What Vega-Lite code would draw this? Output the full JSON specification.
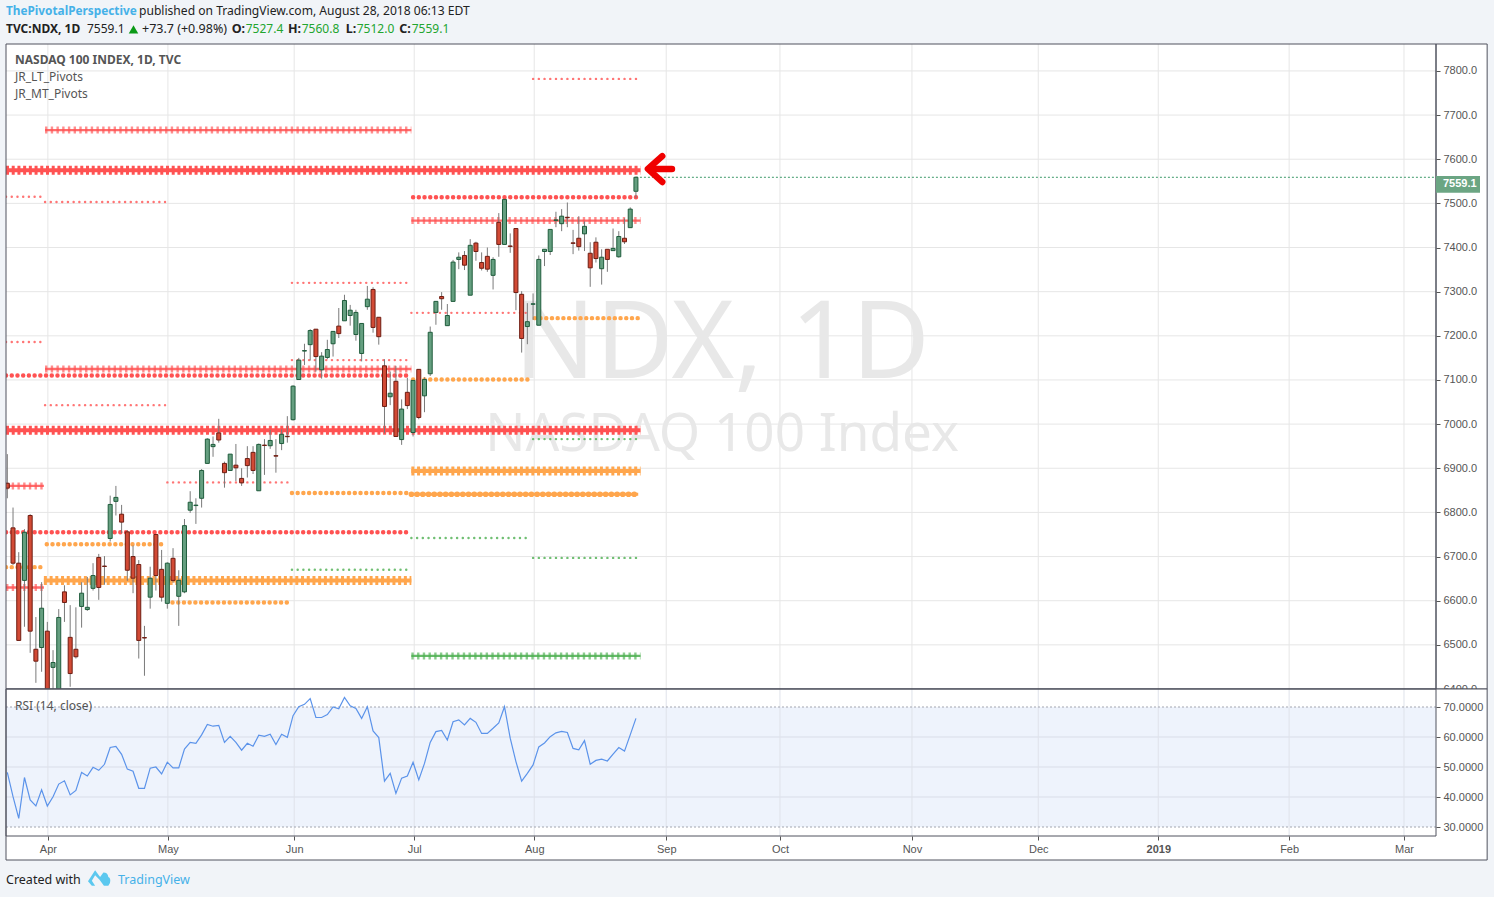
{"$schema":"https://vega.github.io/schema/vega-lite/v6.json","background":"#f1f4f8","padding":{"left":4,"top":5,"right":6,"bottom":10},"autosize":{"type":"pad"},"bounds":"flush","align":"all","spacing":0,
"config":{"view":{"stroke":null,"fill":"#ffffff"},"scale":{"continuousPadding":0},"text":{"font":"Noto Sans"},"axis":{"grid":false,"domain":false,"labelFont":"Liberation Sans","labelFontSize":11,"labelColor":"#555555","tickColor":"#555555","tickSize":4,"labelPadding":3,"labelOverlap":false,"labelBound":false,"labelFlush":false}},
"datasets":{
"candles":[{"s":0,"o":6866,"h":6932,"l":6832,"c":6855},{"s":1,"o":6765,"h":6811,"l":6681,"c":6685},{"s":2,"o":6685,"h":6710,"l":6510,"c":6510},{"s":3,"o":6646,"h":6762,"l":6541,"c":6755},{"s":4,"o":6793,"h":6796,"l":6482,"c":6531},{"s":5,"o":6490,"h":6563,"l":6414,"c":6463},{"s":6,"o":6494,"h":6642,"l":6439,"c":6583},{"s":7,"o":6531,"h":6552,"l":6360,"c":6380},{"s":8,"o":6449,"h":6488,"l":6385,"c":6460},{"s":9,"o":6385,"h":6581,"l":6370,"c":6562},{"s":10,"o":6620,"h":6635,"l":6552,"c":6596},{"s":11,"o":6517,"h":6590,"l":6405,"c":6435},{"s":12,"o":6490,"h":6585,"l":6469,"c":6473},{"s":13,"o":6587,"h":6642,"l":6539,"c":6617},{"s":14,"o":6580,"h":6654,"l":6577,"c":6585},{"s":15,"o":6628,"h":6685,"l":6623,"c":6657},{"s":16,"o":6698,"h":6706,"l":6602,"c":6630},{"s":17,"o":6678.5,"h":6701,"l":6636,"c":6677.5},{"s":18,"o":6741,"h":6838,"l":6734,"c":6818},{"s":19,"o":6825,"h":6860,"l":6793,"c":6834},{"s":20,"o":6796,"h":6817,"l":6753,"c":6778},{"s":21,"o":6756,"h":6760,"l":6645,"c":6669},{"s":22,"o":6700,"h":6725,"l":6617,"c":6651},{"s":23,"o":6682,"h":6692,"l":6469,"c":6510},{"s":24,"o":6516.5,"h":6543,"l":6430,"c":6515.5},{"s":25,"o":6608,"h":6677,"l":6582,"c":6651},{"s":26,"o":6750,"h":6750,"l":6623,"c":6657},{"s":27,"o":6671,"h":6715,"l":6598,"c":6608},{"s":28,"o":6594,"h":6687,"l":6582,"c":6685},{"s":29,"o":6696,"h":6719,"l":6641,"c":6646},{"s":30,"o":6610,"h":6669,"l":6543,"c":6646},{"s":31,"o":6620,"h":6785,"l":6617,"c":6770},{"s":32,"o":6805,"h":6848,"l":6799,"c":6823},{"s":33,"o":6815.5,"h":6832,"l":6774,"c":6816.5},{"s":34,"o":6832,"h":6898,"l":6811,"c":6895},{"s":35,"o":6911,"h":6968,"l":6911,"c":6966},{"s":36,"o":6949,"h":6972,"l":6926,"c":6954},{"s":37,"o":6980,"h":7012,"l":6958,"c":6964},{"s":38,"o":6911,"h":6915,"l":6856,"c":6890},{"s":39,"o":6895,"h":6932,"l":6895,"c":6932},{"s":40,"o":6907,"h":6955,"l":6871,"c":6901},{"s":41,"o":6877,"h":6900,"l":6860,"c":6867},{"s":42,"o":6922,"h":6950,"l":6879,"c":6906},{"s":43,"o":6936,"h":6950,"l":6887,"c":6895},{"s":44,"o":6849,"h":6956,"l":6849,"c":6954},{"s":45,"o":6952.5,"h":6966,"l":6885,"c":6951.5},{"s":46,"o":6951,"h":6987,"l":6944,"c":6963},{"s":47,"o":6928.5,"h":6966,"l":6890,"c":6927.5},{"s":48,"o":6956,"h":6988,"l":6941,"c":6977},{"s":49,"o":6972.5,"h":7018,"l":6958,"c":6971.5},{"s":50,"o":7010,"h":7088,"l":7008,"c":7086},{"s":51,"o":7101,"h":7150,"l":7100,"c":7145},{"s":52,"o":7165.5,"h":7182,"l":7134,"c":7166.5},{"s":53,"o":7180,"h":7215,"l":7144,"c":7212},{"s":54,"o":7215,"h":7215,"l":7119,"c":7153},{"s":55,"o":7123,"h":7163,"l":7103,"c":7154},{"s":56,"o":7151,"h":7191,"l":7147,"c":7169},{"s":57,"o":7182,"h":7210,"l":7153,"c":7210},{"s":58,"o":7222,"h":7263,"l":7195,"c":7205},{"s":59,"o":7234,"h":7293,"l":7234,"c":7280},{"s":60,"o":7246,"h":7270,"l":7223,"c":7258},{"s":61,"o":7203,"h":7259,"l":7189,"c":7253},{"s":62,"o":7160,"h":7228,"l":7142,"c":7228},{"s":63,"o":7266,"h":7313,"l":7259,"c":7283},{"s":64,"o":7305,"h":7310,"l":7207,"c":7219},{"s":65,"o":7242,"h":7242,"l":7180,"c":7198},{"s":66,"o":7132,"h":7147,"l":6979,"c":7040},{"s":67,"o":7062,"h":7119,"l":7043,"c":7070},{"s":68,"o":7097,"h":7132,"l":6972,"c":6972},{"s":69,"o":6965,"h":7056,"l":6953,"c":7034},{"s":70,"o":7072,"h":7105,"l":7034,"c":7042},{"s":71,"o":6981,"h":7099,"l":6972,"c":7099},{"s":72,"o":7124,"h":7124,"l":7011,"c":7015},{"s":73,"o":7064,"h":7106,"l":7027,"c":7101},{"s":74,"o":7114,"h":7221,"l":7109,"c":7208},{"s":75,"o":7253,"h":7278,"l":7225,"c":7278},{"s":76,"o":7289,"h":7299,"l":7259,"c":7284},{"s":77,"o":7223,"h":7272,"l":7223,"c":7246},{"s":78,"o":7278,"h":7372,"l":7278,"c":7367},{"s":79,"o":7373,"h":7389,"l":7351,"c":7378},{"s":80,"o":7382,"h":7392,"l":7349,"c":7360},{"s":81,"o":7292,"h":7419,"l":7292,"c":7405},{"s":82,"o":7410,"h":7413,"l":7370,"c":7391},{"s":83,"o":7366,"h":7389,"l":7348,"c":7353},{"s":84,"o":7380,"h":7400,"l":7345,"c":7351},{"s":85,"o":7337,"h":7378,"l":7305,"c":7373},{"s":86,"o":7457,"h":7478,"l":7379,"c":7407},{"s":87,"o":7407,"h":7509,"l":7407,"c":7509},{"s":88,"o":7403.5,"h":7432,"l":7388,"c":7402.5},{"s":89,"o":7443,"h":7443,"l":7258,"c":7298},{"s":90,"o":7294,"h":7301,"l":7162,"c":7194},{"s":91,"o":7221,"h":7274,"l":7181,"c":7232},{"s":92,"o":7271.5,"h":7296,"l":7236,"c":7272.5},{"s":93,"o":7224,"h":7382,"l":7224,"c":7373},{"s":94,"o":7391,"h":7396,"l":7358,"c":7396},{"s":95,"o":7391,"h":7441,"l":7383,"c":7441},{"s":96,"o":7461.5,"h":7481,"l":7446,"c":7462.5},{"s":97,"o":7454,"h":7487,"l":7437,"c":7471},{"s":98,"o":7468.5,"h":7502,"l":7446,"c":7467.5},{"s":99,"o":7410.5,"h":7440,"l":7385,"c":7409.5},{"s":100,"o":7421,"h":7471,"l":7393,"c":7402},{"s":101,"o":7431,"h":7459,"l":7392,"c":7448},{"s":102,"o":7387,"h":7412,"l":7311,"c":7354},{"s":103,"o":7412,"h":7423,"l":7366,"c":7375},{"s":104,"o":7352,"h":7396,"l":7316,"c":7378},{"s":105,"o":7396,"h":7396,"l":7345,"c":7373},{"s":106,"o":7393,"h":7443,"l":7393,"c":7398},{"s":107,"o":7379,"h":7437,"l":7377,"c":7425},{"s":108,"o":7421,"h":7466,"l":7408,"c":7413},{"s":109,"o":7445,"h":7491,"l":7445,"c":7487},{"s":110,"o":7527.4,"h":7560.8,"l":7512,"c":7559.1}],
"rsi":[{"s":0,"v":48.2},{"s":1,"v":40.1},{"s":2,"v":32.9},{"s":3,"v":46.5},{"s":4,"v":39},{"s":5,"v":37},{"s":6,"v":42.4},{"s":7,"v":37},{"s":8,"v":40.1},{"s":9,"v":44.3},{"s":10,"v":45.4},{"s":11,"v":40.7},{"s":12,"v":42.2},{"s":13,"v":48.2},{"s":14,"v":47},{"s":15,"v":49.9},{"s":16,"v":48.9},{"s":17,"v":50.9},{"s":18,"v":56.5},{"s":19,"v":56.9},{"s":20,"v":54.2},{"s":21,"v":49.3},{"s":22,"v":48.6},{"s":23,"v":42.9},{"s":24,"v":42.9},{"s":25,"v":49.6},{"s":26,"v":50},{"s":27,"v":47.7},{"s":28,"v":51.6},{"s":29,"v":49.7},{"s":30,"v":49.7},{"s":31,"v":56},{"s":32,"v":58.2},{"s":33,"v":57.9},{"s":34,"v":60.7},{"s":35,"v":64.2},{"s":36,"v":63.6},{"s":37,"v":63.9},{"s":38,"v":58.2},{"s":39,"v":60.2},{"s":40,"v":58.2},{"s":41,"v":55.6},{"s":42,"v":57.9},{"s":43,"v":56.9},{"s":44,"v":60.6},{"s":45,"v":60.2},{"s":46,"v":60.9},{"s":47,"v":57.5},{"s":48,"v":60.9},{"s":49,"v":59.9},{"s":50,"v":67.1},{"s":51,"v":70.1},{"s":52,"v":70.9},{"s":53,"v":72.8},{"s":54,"v":66.5},{"s":55,"v":66.5},{"s":56,"v":67.5},{"s":57,"v":70},{"s":58,"v":69.4},{"s":59,"v":73.2},{"s":60,"v":70.4},{"s":61,"v":69.5},{"s":62,"v":66.2},{"s":63,"v":70.1},{"s":64,"v":62},{"s":65,"v":59.8},{"s":66,"v":45.3},{"s":67,"v":47.9},{"s":68,"v":41.2},{"s":69,"v":46.3},{"s":70,"v":47},{"s":71,"v":51.6},{"s":72,"v":45.7},{"s":73,"v":51.2},{"s":74,"v":58.2},{"s":75,"v":61.8},{"s":76,"v":62.2},{"s":77,"v":59},{"s":78,"v":65.1},{"s":79,"v":65.7},{"s":80,"v":64},{"s":81,"v":66.2},{"s":82,"v":64.9},{"s":83,"v":61.2},{"s":84,"v":61.2},{"s":85,"v":62.9},{"s":86,"v":64.7},{"s":87,"v":70.1},{"s":88,"v":59.6},{"s":89,"v":51.8},{"s":90,"v":45.3},{"s":91,"v":47.9},{"s":92,"v":50.7},{"s":93,"v":56.7},{"s":94,"v":58},{"s":95,"v":60.1},{"s":96,"v":61.4},{"s":97,"v":61.9},{"s":98,"v":61.5},{"s":99,"v":56.2},{"s":100,"v":55.7},{"s":101,"v":58.8},{"s":102,"v":50.9},{"s":103,"v":52.2},{"s":104,"v":52.6},{"s":105,"v":52},{"s":106,"v":54.3},{"s":107,"v":56.5},{"s":108,"v":55.3},{"s":109,"v":60.7},{"s":110,"v":66.2}],
"pivots":[{"from":-0.23,"to":110.8,"level":7575,"zone":"R","tier":"heavy"},{"from":-0.23,"to":110.8,"level":6986,"zone":"R","tier":"heavy"},{"from":6.4,"to":70.7,"level":6646,"zone":"M","tier":"heavy"},{"from":70.7,"to":110.8,"level":6894,"zone":"M","tier":"heavy"},{"from":70.7,"to":110.4,"level":6841,"zone":"M","tier":"chain"},{"from":6.6,"to":70.7,"level":7666,"zone":"R","tier":"cross"},{"from":6.6,"to":70.7,"level":7125,"zone":"R","tier":"cross"},{"from":70.7,"to":110.8,"level":7461,"zone":"R","tier":"cross"},{"from":-0.23,"to":6.4,"level":6860,"zone":"R","tier":"cross"},{"from":-0.23,"to":6.4,"level":6630,"zone":"R","tier":"cross"},{"from":70.7,"to":110.8,"level":6475,"zone":"S","tier":"cross"},{"from":-0.23,"to":70.7,"level":7110,"zone":"R","tier":"round"},{"from":-0.23,"to":70.7,"level":6755,"zone":"R","tier":"round"},{"from":71,"to":110.4,"level":7514,"zone":"R","tier":"round"},{"from":6.9,"to":27.3,"level":6728,"zone":"M","tier":"round"},{"from":-0.23,"to":6.2,"level":6676,"zone":"M","tier":"round"},{"from":28.9,"to":49,"level":6596,"zone":"M","tier":"round"},{"from":49.8,"to":70.7,"level":6844,"zone":"M","tier":"round"},{"from":71,"to":91.5,"level":7101,"zone":"M","tier":"round"},{"from":92.3,"to":110.4,"level":7240,"zone":"M","tier":"round"},{"from":92,"to":110.4,"level":7782,"zone":"R","tier":"light"},{"from":-0.23,"to":6.4,"level":7515,"zone":"R","tier":"light"},{"from":6.6,"to":27.6,"level":7503,"zone":"R","tier":"light"},{"from":49.8,"to":70.7,"level":7320,"zone":"R","tier":"light"},{"from":70.7,"to":91.5,"level":7252,"zone":"R","tier":"light"},{"from":-0.23,"to":6.4,"level":7186,"zone":"R","tier":"light"},{"from":49.8,"to":70.7,"level":7145,"zone":"R","tier":"light"},{"from":6.6,"to":27.6,"level":7043,"zone":"R","tier":"light"},{"from":28,"to":49.2,"level":6868,"zone":"R","tier":"light"},{"from":92,"to":110.4,"level":6966,"zone":"S","tier":"light"},{"from":70.7,"to":91.5,"level":6742,"zone":"S","tier":"light"},{"from":92,"to":110.4,"level":6697,"zone":"S","tier":"light"},{"from":49.8,"to":70.7,"level":6670,"zone":"S","tier":"light"}],
"months":[{"s":7.1,"m":"Apr"},{"s":28.1,"m":"May"},{"s":50.2,"m":"Jun"},{"s":71.2,"m":"Jul"},{"s":92.2,"m":"Aug"},{"s":115.3,"m":"Sep"},{"s":135.2,"m":"Oct"},{"s":158.3,"m":"Nov"},{"s":180.4,"m":"Dec"},{"s":201.4,"m":"2019"},{"s":224.3,"m":"Feb"},{"s":244.4,"m":"Mar"}],
"priceGrid":[{"p":6500},{"p":6600},{"p":6700},{"p":6800},{"p":6900},{"p":7000},{"p":7100},{"p":7200},{"p":7300},{"p":7400},{"p":7500},{"p":7600},{"p":7700},{"p":7800}],
"rsiGrid":[{"r":40},{"r":50},{"r":60}],
"rsiBounds":[{"r":30},{"r":70}],
"arrow":[{"part":"head","o":1,"s":114.6,"p":7607},{"part":"head","o":2,"s":112.1,"p":7578},{"part":"head","o":3,"s":114.6,"p":7548.5},{"part":"shaft","o":1,"s":112.5,"p":7578},{"part":"shaft","o":2,"s":116.3,"p":7578}]
},
"vconcat":[
{"width":1430,"height":645,"layer":[
{"data":{"values":[{}]},"mark":{"type":"rect","fill":"#ffffff"},"encoding":{"x":{"datum":250,"type":"quantitative","scale":{"domain":[-0.23,250],"nice":false,"zero":false,"padding":0},"axis":null},"x2":{"datum":258.95},"y":{"datum":6400,"type":"quantitative","scale":{"domain":[6400,7861],"nice":false,"zero":false},"axis":{"title":null,"orient":"right","zindex":1,"labelOverlap":false,"tickCount":15,"values":[6400,6500,6600,6700,6800,6900,7000,7100,7200,7300,7400,7500,7600,7700,7800],"format":".1f"}},"y2":{"datum":7861}}},
{"data":{"name":"priceGrid"},"mark":{"type":"rule","color":"#e6e6e6","strokeWidth":1},"encoding":{"y":{"field":"p","type":"quantitative"},"x":{"datum":-0.23,"type":"quantitative","axis":null},"x2":{"datum":250}}},
{"data":{"name":"months"},"mark":{"type":"rule","color":"#e6e6e6","strokeWidth":1},"encoding":{"x":{"field":"s","type":"quantitative","axis":null},"y":{"datum":6400,"type":"quantitative"},"y2":{"datum":7861}}},
{"data":{"values":[{"t":"NDX, 1D"}]},"mark":{"type":"text","fontSize":107,"color":"#e8e8e8","align":"center","baseline":"middle"},"encoding":{"x":{"datum":125.07,"type":"quantitative","axis":null},"y":{"datum":7178,"type":"quantitative"},"text":{"field":"t"}}},
{"data":{"values":[{"t":"NASDAQ 100 Index"}]},"mark":{"type":"text","fontSize":53,"color":"#e8e8e8","align":"center","baseline":"middle"},"encoding":{"x":{"datum":125.07,"type":"quantitative","axis":null},"y":{"datum":6976,"type":"quantitative"},"text":{"field":"t"}}},
{"data":{"name":"pivots"},"transform":[{"filter":"datum.tier=='light'"}],"mark":{"type":"rule","strokeWidth":2.4,"strokeCap":"round","strokeDash":[0.1,5.614],"opacity":0.8,"clip":true},"encoding":{"x":{"field":"from","type":"quantitative","axis":null},"x2":{"field":"to"},"y":{"field":"level","type":"quantitative"},"color":{"field":"zone","type":"nominal","scale":{"domain":["R","M","S"],"range":["#ff5252","#ffa64d","#4caf50"]},"legend":null}}},
{"data":{"name":"pivots"},"transform":[{"filter":"datum.tier=='round'"}],"mark":{"type":"rule","strokeWidth":4.4,"strokeCap":"round","strokeDash":[0.1,5.614],"clip":true},"encoding":{"x":{"field":"from","type":"quantitative","axis":null},"x2":{"field":"to"},"y":{"field":"level","type":"quantitative"},"color":{"field":"zone","type":"nominal","legend":null}}},
{"data":{"name":"pivots"},"transform":[{"filter":"datum.tier=='chain'"}],"mark":{"type":"rule","strokeWidth":5.6,"strokeCap":"round","strokeDash":[0.1,5.614],"clip":true},"encoding":{"x":{"field":"from","type":"quantitative","axis":null},"x2":{"field":"to"},"y":{"field":"level","type":"quantitative"},"color":{"field":"zone","type":"nominal","legend":null}}},
{"data":{"name":"pivots"},"transform":[{"filter":"datum.tier=='chain'"}],"mark":{"type":"rule","strokeWidth":3,"clip":true},"encoding":{"x":{"field":"from","type":"quantitative","axis":null},"x2":{"field":"to"},"y":{"field":"level","type":"quantitative"},"color":{"field":"zone","type":"nominal","legend":null}}},
{"data":{"name":"pivots"},"transform":[{"filter":"datum.tier=='cross'"}],"mark":{"type":"rule","strokeWidth":7,"strokeDash":[2.4,3.314],"opacity":0.65,"clip":true},"encoding":{"x":{"field":"from","type":"quantitative","axis":null},"x2":{"field":"to"},"y":{"field":"level","type":"quantitative"},"color":{"field":"zone","type":"nominal","legend":null}}},
{"data":{"name":"pivots"},"transform":[{"filter":"datum.tier=='cross'"}],"mark":{"type":"rule","strokeWidth":2.4,"opacity":0.85,"clip":true},"encoding":{"x":{"field":"from","type":"quantitative","axis":null},"x2":{"field":"to"},"y":{"field":"level","type":"quantitative"},"color":{"field":"zone","type":"nominal","legend":null}}},
{"data":{"name":"pivots"},"transform":[{"filter":"datum.tier=='heavy'"}],"mark":{"type":"rule","strokeWidth":9,"strokeDash":[3,2.714],"clip":true},"encoding":{"x":{"field":"from","type":"quantitative","axis":null},"x2":{"field":"to"},"y":{"field":"level","type":"quantitative"},"color":{"field":"zone","type":"nominal","legend":null}}},
{"data":{"name":"pivots"},"transform":[{"filter":"datum.tier=='heavy'"}],"mark":{"type":"rule","strokeWidth":4,"clip":true},"encoding":{"x":{"field":"from","type":"quantitative","axis":null},"x2":{"field":"to"},"y":{"field":"level","type":"quantitative"},"color":{"field":"zone","type":"nominal","legend":null}}},
{"data":{"values":[{"close":7559.1}]},"mark":{"type":"rule","color":"#3f9a6a","strokeWidth":1,"strokeDash":[2,2]},"encoding":{"x":{"datum":110,"type":"quantitative","axis":null},"x2":{"datum":250},"y":{"field":"close","type":"quantitative"}}},
{"data":{"name":"candles"},"mark":{"type":"rule","color":"#7a7a7a","strokeWidth":1,"clip":true},"encoding":{"x":{"field":"s","type":"quantitative","axis":null},"y":{"field":"l","type":"quantitative"},"y2":{"field":"h"}}},
{"data":{"name":"candles"},"mark":{"type":"bar","size":4,"strokeWidth":1,"clip":true},"encoding":{"x":{"field":"s","type":"quantitative","axis":null},"y":{"field":"o","type":"quantitative"},"y2":{"field":"c"},"fill":{"condition":{"test":"datum.c>=datum.o","value":"#659f80"},"value":"#d24a35"},"stroke":{"condition":{"test":"datum.c>=datum.o","value":"#1f5c3c"},"value":"#6e1d12"}}},
{"data":{"name":"arrow"},"mark":{"type":"line","color":"#f00000","strokeWidth":6.5,"strokeCap":"round","strokeJoin":"round"},"encoding":{"x":{"field":"s","type":"quantitative","axis":null},"y":{"field":"p","type":"quantitative"},"detail":{"field":"part"},"order":{"field":"o"}}},
{"data":{"values":[{"box":"frame"}]},"mark":{"type":"rect","fillOpacity":0,"stroke":"#50535e","strokeWidth":1},"encoding":{"x":{"datum":-0.23,"type":"quantitative","axis":null},"x2":{"datum":250},"y":{"datum":6400,"type":"quantitative"},"y2":{"datum":7861}}},
{"data":{"values":[{"box":"scale"}]},"mark":{"type":"rect","fillOpacity":0,"stroke":"#50535e","strokeWidth":1},"encoding":{"x":{"datum":250,"type":"quantitative","axis":null},"x2":{"datum":258.95},"y":{"datum":6400,"type":"quantitative"},"y2":{"datum":7861}}},
{"data":{"values":[{"box":"last"}]},"mark":{"type":"rect","fill":"#6ba583"},"encoding":{"x":{"datum":250,"type":"quantitative","axis":null},"x2":{"datum":257.7},"y":{"datum":7524,"type":"quantitative"},"y2":{"datum":7562}}},
{"data":{"values":[{"t":"7559.1"}]},"mark":{"type":"text","font":"Liberation Sans","fontSize":11,"fontWeight":"bold","color":"#ffffff","align":"left","baseline":"middle","dx":7},"encoding":{"x":{"datum":250,"type":"quantitative","axis":null},"y":{"datum":7543,"type":"quantitative"},"text":{"field":"t"}}},
{"data":{"values":[{"t":"NASDAQ 100 INDEX, 1D, TVC"}]},"mark":{"type":"text","fontSize":12,"fontWeight":"bold","color":"#555555","align":"left","baseline":"middle"},"encoding":{"x":{"datum":1.34,"type":"quantitative","axis":null},"y":{"datum":7825,"type":"quantitative"},"text":{"field":"t"}}},
{"data":{"values":[{"t":"JR_LT_Pivots"}]},"mark":{"type":"text","fontSize":12,"color":"#555555","align":"left","baseline":"middle"},"encoding":{"x":{"datum":1.34,"type":"quantitative","axis":null},"y":{"datum":7786,"type":"quantitative"},"text":{"field":"t"}}},
{"data":{"values":[{"t":"JR_MT_Pivots"}]},"mark":{"type":"text","fontSize":12,"color":"#555555","align":"left","baseline":"middle"},"encoding":{"x":{"datum":1.34,"type":"quantitative","axis":null},"y":{"datum":7748,"type":"quantitative"},"text":{"field":"t"}}},
{"data":{"values":[{"t":"ThePivotalPerspective"}]},"mark":{"type":"text","fontSize":11.8,"fontWeight":"bold","color":"#45b1e8","align":"left","baseline":"middle"},"encoding":{"x":{"datum":-0.23,"type":"quantitative","axis":null},"y":{"datum":7935,"type":"quantitative"},"text":{"field":"t"}}},
{"data":{"values":[{"t":"published on TradingView.com, August 28, 2018 06:13 EDT"}]},"mark":{"type":"text","fontSize":12.1,"color":"#222222","align":"left","baseline":"middle"},"encoding":{"x":{"datum":23.04,"type":"quantitative","axis":null},"y":{"datum":7935,"type":"quantitative"},"text":{"field":"t"}}},
{"data":{"values":[{"t":"TVC:NDX, 1D"}]},"mark":{"type":"text","fontSize":12,"fontWeight":"bold","color":"#222222","align":"left","baseline":"middle"},"encoding":{"x":{"datum":-0.23,"type":"quantitative","axis":null},"y":{"datum":7894,"type":"quantitative"},"text":{"field":"t"}}},
{"data":{"values":[{"t":"7559.1"}]},"mark":{"type":"text","fontSize":12,"color":"#222222","align":"left","baseline":"middle"},"encoding":{"x":{"datum":13.94,"type":"quantitative","axis":null},"y":{"datum":7894,"type":"quantitative"},"text":{"field":"t"}}},
{"data":{"values":[{"t":"up"}]},"mark":{"type":"point","shape":"triangle-up","filled":true,"size":90,"color":"#0b9a17","opacity":1},"encoding":{"x":{"datum":22.08,"type":"quantitative","axis":null},"y":{"datum":7894,"type":"quantitative"}}},
{"data":{"values":[{"t":"+73.7 (+0.98%)"}]},"mark":{"type":"text","fontSize":12.5,"color":"#222222","align":"left","baseline":"middle"},"encoding":{"x":{"datum":23.57,"type":"quantitative","axis":null},"y":{"datum":7894,"type":"quantitative"},"text":{"field":"t"}}},
{"data":{"values":[{"t":"O:"}]},"mark":{"type":"text","fontSize":12.5,"fontWeight":"bold","color":"#222222","align":"left","baseline":"middle"},"encoding":{"x":{"datum":39.27,"type":"quantitative","axis":null},"y":{"datum":7894,"type":"quantitative"},"text":{"field":"t"}}},
{"data":{"values":[{"t":"7527.4"}]},"mark":{"type":"text","fontSize":12,"color":"#22a52e","align":"left","baseline":"middle"},"encoding":{"x":{"datum":41.72,"type":"quantitative","axis":null},"y":{"datum":7894,"type":"quantitative"},"text":{"field":"t"}}},
{"data":{"values":[{"t":"H:"}]},"mark":{"type":"text","fontSize":12.5,"fontWeight":"bold","color":"#222222","align":"left","baseline":"middle"},"encoding":{"x":{"datum":49.12,"type":"quantitative","axis":null},"y":{"datum":7894,"type":"quantitative"},"text":{"field":"t"}}},
{"data":{"values":[{"t":"7560.8"}]},"mark":{"type":"text","fontSize":12,"color":"#22a52e","align":"left","baseline":"middle"},"encoding":{"x":{"datum":51.52,"type":"quantitative","axis":null},"y":{"datum":7894,"type":"quantitative"},"text":{"field":"t"}}},
{"data":{"values":[{"t":"L:"}]},"mark":{"type":"text","fontSize":12.5,"fontWeight":"bold","color":"#222222","align":"left","baseline":"middle"},"encoding":{"x":{"datum":59.22,"type":"quantitative","axis":null},"y":{"datum":7894,"type":"quantitative"},"text":{"field":"t"}}},
{"data":{"values":[{"t":"7512.0"}]},"mark":{"type":"text","fontSize":12,"color":"#22a52e","align":"left","baseline":"middle"},"encoding":{"x":{"datum":61.14,"type":"quantitative","axis":null},"y":{"datum":7894,"type":"quantitative"},"text":{"field":"t"}}},
{"data":{"values":[{"t":"C:"}]},"mark":{"type":"text","fontSize":12.5,"fontWeight":"bold","color":"#222222","align":"left","baseline":"middle"},"encoding":{"x":{"datum":68.6,"type":"quantitative","axis":null},"y":{"datum":7894,"type":"quantitative"},"text":{"field":"t"}}},
{"data":{"values":[{"t":"7559.1"}]},"mark":{"type":"text","fontSize":12,"color":"#22a52e","align":"left","baseline":"middle"},"encoding":{"x":{"datum":70.77,"type":"quantitative","axis":null},"y":{"datum":7894,"type":"quantitative"},"text":{"field":"t"}}}
]},
{"width":1430,"height":147,"layer":[
{"data":{"values":[{}]},"mark":{"type":"rect","fill":"#ffffff"},"encoding":{"x":{"datum":-0.23,"type":"quantitative","scale":{"domain":[-0.23,250],"nice":false,"zero":false,"padding":0},"axis":{"title":null,"orient":"bottom","zindex":1,"labelOverlap":false,"values":[7.1,28.1,50.2,71.2,92.2,115.3,135.2,158.3,180.4,201.4,224.3,244.4],"labelExpr":"{'7.1':'Apr','28.1':'May','50.2':'Jun','71.2':'Jul','92.2':'Aug','115.3':'Sep','135.2':'Oct','158.3':'Nov','180.4':'Dec','201.4':'2019','224.3':'Feb','244.4':'Mar'}[''+datum.value]","labelFontWeight":{"expr":"datum.value==201.4?'bold':'normal'"}}},"x2":{"datum":258.95},"y":{"datum":19,"type":"quantitative","scale":{"domain":[27,76],"nice":false,"zero":false},"axis":{"title":null,"orient":"right","zindex":1,"labelOverlap":false,"tickCount":6,"values":[30,40,50,60,70],"format":".4f"}},"y2":{"datum":76}}},
{"data":{"values":[{"zone":"rsi"}]},"mark":{"type":"rect","fill":"#eef3fc"},"encoding":{"x":{"datum":-0.23,"type":"quantitative"},"x2":{"datum":250},"y":{"datum":30,"type":"quantitative"},"y2":{"datum":70}}},
{"data":{"name":"rsiGrid"},"mark":{"type":"rule","color":"#d9dde8","strokeWidth":1},"encoding":{"y":{"field":"r","type":"quantitative"},"x":{"datum":-0.23,"type":"quantitative"},"x2":{"datum":250}}},
{"data":{"name":"months"},"mark":{"type":"rule","color":"#dfe2ea","strokeWidth":1},"encoding":{"x":{"field":"s","type":"quantitative"},"y":{"datum":27,"type":"quantitative"},"y2":{"datum":76}}},
{"data":{"name":"rsiBounds"},"mark":{"type":"rule","color":"#a3a6b0","strokeWidth":1,"strokeDash":[2,2]},"encoding":{"y":{"field":"r","type":"quantitative"},"x":{"datum":-0.23,"type":"quantitative"},"x2":{"datum":250}}},
{"data":{"name":"rsi"},"mark":{"type":"line","color":"#5b93ea","strokeWidth":1.2},"encoding":{"x":{"field":"s","type":"quantitative"},"y":{"field":"v","type":"quantitative"}}},
{"data":{"values":[{"t":"RSI (14, close)"}]},"mark":{"type":"text","fontSize":12,"color":"#555555","align":"left","baseline":"middle"},"encoding":{"x":{"datum":1.34,"type":"quantitative"},"y":{"datum":70.3,"type":"quantitative"},"text":{"field":"t"}}},
{"data":{"values":[{"box":"frame"}]},"mark":{"type":"rect","fillOpacity":0,"stroke":"#50535e","strokeWidth":1},"encoding":{"x":{"datum":-0.23,"type":"quantitative"},"x2":{"datum":250},"y":{"datum":27,"type":"quantitative"},"y2":{"datum":76}}},
{"data":{"values":[{"box":"outer"}]},"mark":{"type":"rect","fillOpacity":0,"stroke":"#50535e","strokeWidth":1},"encoding":{"x":{"datum":-0.23,"type":"quantitative"},"x2":{"datum":258.95},"y":{"datum":19,"type":"quantitative"},"y2":{"datum":76}}},
{"data":{"values":[{"t":"Created with"}]},"mark":{"type":"text","fontSize":12.5,"color":"#222222","align":"left","baseline":"middle"},"encoding":{"x":{"datum":-0.23,"type":"quantitative"},"y":{"datum":12.33,"type":"quantitative"},"text":{"field":"t"}}},
{"data":{"values":[{"t":"logo"}]},"mark":{"type":"point","filled":true,"opacity":1,"size":484,"color":"#5bc8ef","shape":"M-1 0.3 L-0.35 -0.7 L0.1 -0.1 L0.4 -0.5 Q0.8 -0.5 0.85 -0.1 Q1.1 0 1 0.45 L0.85 0.7 L0.45 0.7 L0.05 0.15 L-0.35 -0.25 L-0.65 0.25 L-0.35 0.7 L-0.65 0.7 Z"},"encoding":{"x":{"datum":16.04,"type":"quantitative"},"y":{"datum":13,"type":"quantitative"}}},
{"data":{"values":[{"t":"TradingView"}]},"mark":{"type":"text","fontSize":12.5,"color":"#45b1e8","align":"left","baseline":"middle"},"encoding":{"x":{"datum":19.37,"type":"quantitative"},"y":{"datum":12.33,"type":"quantitative"},"text":{"field":"t"}}}
]}
]}
